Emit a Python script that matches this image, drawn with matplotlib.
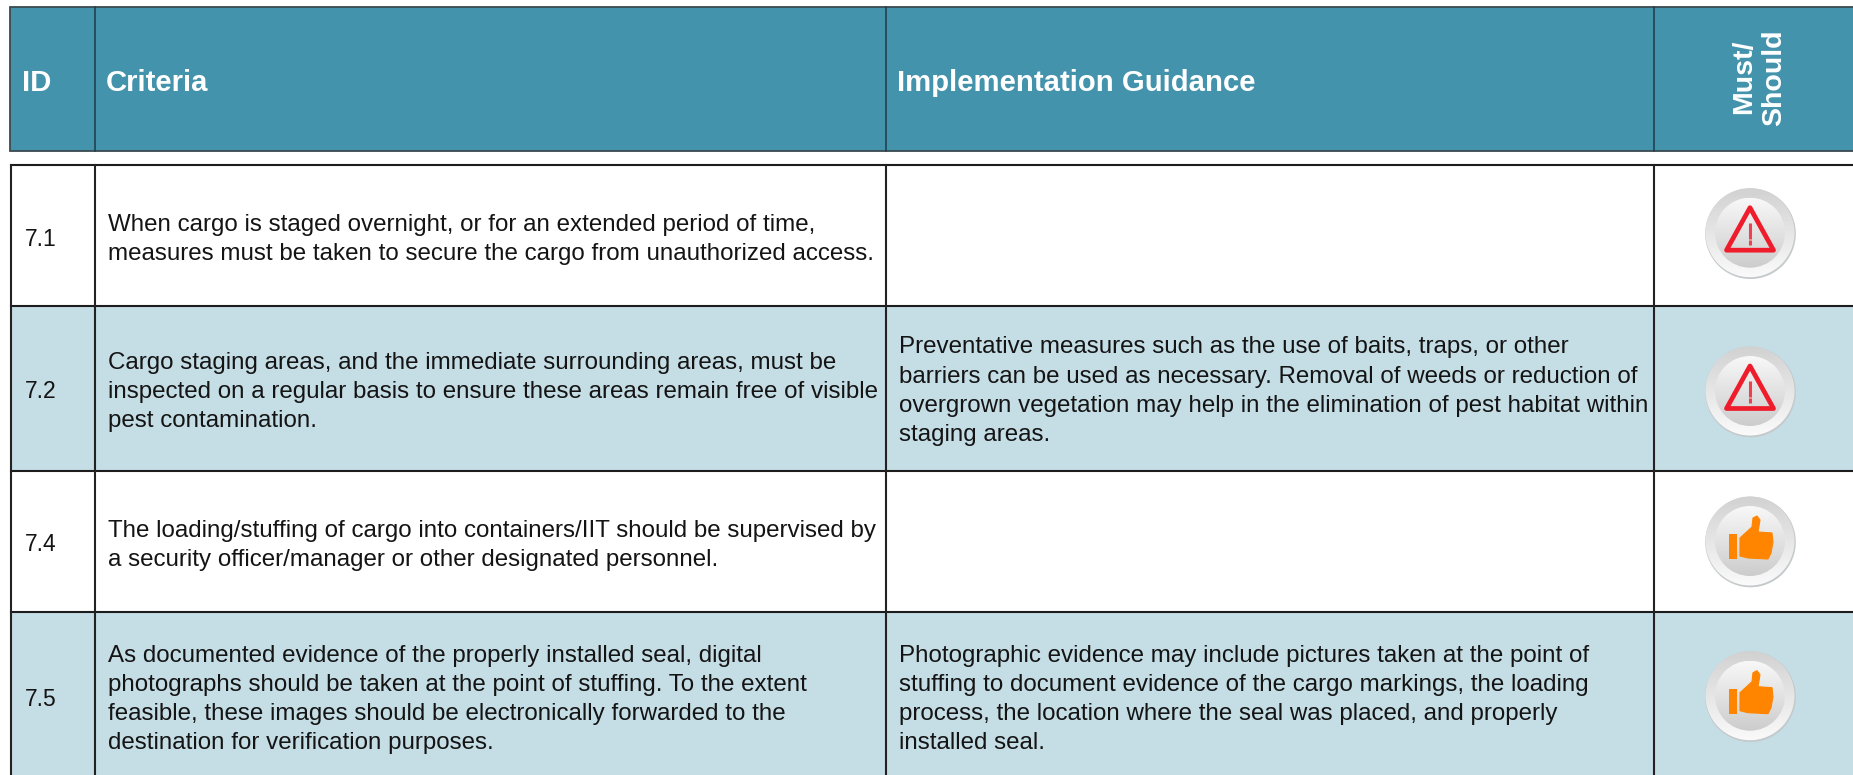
import numpy as np
import matplotlib
matplotlib.use("Agg")
import matplotlib.pyplot as plt
from matplotlib.patches import Rectangle, Circle, Polygon

plt.rcParams['font.family'] = ['Liberation Sans', 'DejaVu Sans']

# table content
headers = ["ID", "Criteria", "Implementation Guidance"]
last_header = ["Must/", "Should"]
ids = ["7.1", "7.2", "7.4", "7.5"]
criteria = [
    ["When cargo is staged overnight, or for an extended period of time,",
     "measures must be taken to secure the cargo from unauthorized access."],
    ["Cargo staging areas, and the immediate surrounding areas, must be",
     "inspected on a regular basis to ensure these areas remain free of visible",
     "pest contamination."],
    ["The loading/stuffing of cargo into containers/IIT should be supervised by",
     "a security officer/manager or other designated personnel."],
    ["As documented evidence of the properly installed seal, digital",
     "photographs should be taken at the point of stuffing. To the extent",
     "feasible, these images should be electronically forwarded to the",
     "destination for verification purposes."],
]
guidance = [
    [],
    ["Preventative measures such as the use of baits, traps, or other",
     "barriers can be used as necessary. Removal of weeds or reduction of",
     "overgrown vegetation may help in the elimination of pest habitat within",
     "staging areas."],
    [],
    ["Photographic evidence may include pictures taken at the point of",
     "stuffing to document evidence of the cargo markings, the loading",
     "process, the location where the seal was placed, and properly",
     "installed seal."],
]
icons = ["must", "must", "should", "should"]

# layout in pixels
col_x = [11, 94.5, 886, 1654]
row_y = [165, 306, 471, 612, 775]
head_top, head_bot = 7, 151
line_h = 29.2
id_base = [245.7, 397.7, 550.7, 705.7]
crit_base = [230.7, 369, 536.7, 661.7]
guid_base = [0, 353.3, 0, 661.7]
icon_y = [232.7, 391, 541, 695.7]
icon_x = 1750

TEAL = "#4393ac"
LIGHT = "#c5dde5"
INK = "#141414"
BODY_SIZE = 17.36
HEAD_SIZE = 21.1

fig = plt.figure(figsize=(18.53, 7.75), dpi=100)
ax = fig.add_axes([0, 0, 1, 1])
ax.set_xlim(0, 1853)
ax.set_ylim(775, 0)
ax.axis("off")

# header band
ax.add_patch(Rectangle((10, head_top), 1853, head_bot - head_top,
                       fc=TEAL, ec="#3a4a50", lw=1.3))
for x in col_x[1:]:
    ax.plot([x, x], [head_top, head_bot], color="#1f4250", lw=1.2)
for x, label in zip([21.7, 105.5, 897], headers):
    ax.text(x, 90.7, label, color="white", fontsize=HEAD_SIZE, fontweight="bold", va="baseline")
for x, y, label in zip([1750.7, 1780.7], [76.5, 78], last_header):
    ax.text(x, y, label, color="white", fontsize=20.5, fontweight="bold", rotation=90,
            ha="center", va="baseline", rotation_mode="anchor")


def draw_icon(cx, cy, kind):
    ax.add_patch(Circle((cx + 0.5, cy + 1), 45.3, fc="#c4c9cb", ec="none", zorder=3))
    ramp = np.linspace(0, 1, 100)[:, None]
    # outer ring, darker at the top
    im = ax.imshow(0.82 + 0.16 * ramp, cmap="gray", vmin=0, vmax=1, aspect="auto",
                   extent=[cx - 45, cx + 45, cy + 45, cy - 45], zorder=4)
    im.set_clip_path(Circle((cx, cy), 44.5, transform=ax.transData))
    # inner disc, darker at the bottom
    inner = ax.imshow(0.97 - 0.17 * ramp, cmap="gray", vmin=0, vmax=1, aspect="auto",
                      extent=[cx - 35, cx + 35, cy + 35, cy - 35], zorder=5)
    inner.set_clip_path(Circle((cx, cy), 35, transform=ax.transData))
    if kind == "must":
        tri = [(cx, cy - 25), (cx - 23.5, cy + 17.5), (cx + 23.5, cy + 17.5)]
        ax.add_patch(Polygon(tri, closed=True, fc="none", ec="#ef1c2c", lw=3.4,
                             joinstyle="round", zorder=6))
        ax.plot([cx, cx], [cy - 10, cy + 6], color="#ee4050", lw=2.2, zorder=6, solid_capstyle="butt")
        ax.plot([cx, cx], [cy + 7, cy + 12], color="#ee4050", lw=2.2, zorder=6, solid_capstyle="butt")
    else:
        ax.add_patch(Rectangle((cx - 21, cy - 7), 8, 25, fc="#ff8500", ec="none", zorder=6))
        thumb = [(-10, -3), (-10, 15), (-2, 17), (18, 18), (21, 12), (23, 1), (22, -8),
                 (8, -9), (10, -21), (7, -25), (3, -23), (2, -14)]
        ax.add_patch(Polygon([(cx + a, cy + b) for a, b in thumb], closed=True,
                             fc="#ff8500", ec="#ff8500", lw=0.8, joinstyle="round", zorder=6))


# body rows
for i, row in enumerate(ids):
    top, bot = row_y[i], row_y[i + 1]
    if i % 2 == 1:
        ax.add_patch(Rectangle((11, top), 1853, bot - top, fc=LIGHT, ec="none", zorder=0))
    ax.text(24.7, id_base[i], row, fontsize=16.5, va="baseline", color=INK)
    for j, line in enumerate(criteria[i]):
        ax.text(108, crit_base[i] + j * line_h, line, fontsize=BODY_SIZE, va="baseline", color=INK)
    for j, line in enumerate(guidance[i]):
        ax.text(899, guid_base[i] + j * line_h, line, fontsize=BODY_SIZE, va="baseline", color=INK)
    draw_icon(icon_x, icon_y[i], icons[i])

# grid lines
for y in row_y[:-1]:
    ax.plot([11, 1853], [y, y], color="#1c1c1c", lw=1.5, zorder=2)
for x in col_x:
    ax.plot([x, x], [row_y[0], 775], color="#222222", lw=1.5, zorder=2)

ax.set_xlim(0, 1853)
ax.set_ylim(775, 0)
fig.savefig("out.png", dpi=100)
